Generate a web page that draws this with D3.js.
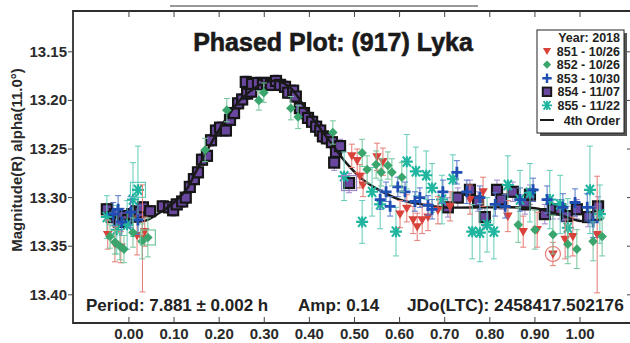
<!DOCTYPE html>
<html>
<head>
<meta charset="utf-8">
<script src="https://cdnjs.cloudflare.com/ajax/libs/d3/7.8.5/d3.min.js"></script>
<style>
  body { margin: 0; background: #fff; }
  svg { display: block; font-family: "Liberation Sans", Arial, sans-serif; font-weight: bold; }
</style>
</head>
<body>
<svg id="chart" width="630" height="343"></svg>
<script>
// session data: [phase, magnitude, error]
var s851 = [[-0.047,13.338,0.015],[-0.031,13.348,0.018],[-0.018,13.351,0.016],[0.018,13.339,0.02],[0.030,13.342,0.055],[0.035,13.335,0.015],
  [0.494,13.257,0.012],[0.506,13.262,0.012],[0.512,13.278,0.012],[0.519,13.287,0.012],[0.550,13.258,0.014],[0.563,13.263,0.014],
  [0.601,13.317,0.014],[0.616,13.311,0.014],[0.630,13.323,0.014],[0.639,13.330,0.014],[0.650,13.323,0.014],[0.663,13.320,0.014],
  [0.685,13.313,0.014],[0.712,13.309,0.015],[0.756,13.302,0.015],[0.785,13.294,0.015],[0.840,13.319,0.016],[0.874,13.335,0.016],
  [0.905,13.333,0.018],[0.940,13.358,0.012],[0.967,13.343,0.02],[0.984,13.340,0.02],[1.038,13.338,0.06]];
var s852 = [[-0.042,13.340,0.012],[-0.031,13.346,0.012],[-0.020,13.350,0.014],[-0.011,13.353,0.014],[0.009,13.336,0.015],[0.029,13.345,0.018],[0.042,13.341,0.02],
  [0.169,13.251,0.012],[0.217,13.210,0.012],[0.288,13.200,0.01],[0.299,13.192,0.01],[0.359,13.208,0.012],[0.375,13.217,0.012],[0.452,13.233,0.012],
  [0.517,13.254,0.014],[0.528,13.271,0.014],[0.548,13.266,0.014],[0.559,13.274,0.014],[0.574,13.267,0.014],[0.583,13.274,0.014],[0.605,13.279,0.015],
  [0.863,13.328,0.018],[0.900,13.333,0.02],[0.940,13.338,0.02],[0.973,13.348,0.02],[0.993,13.353,0.02],[1.029,13.345,0.02],[1.049,13.340,0.02]];
var s853 = [[-0.035,13.317,0.012],[-0.024,13.312,0.014],[-0.016,13.325,0.014],[0.004,13.315,0.016],[0.020,13.323,0.015],
  [0.557,13.302,0.01],[0.570,13.294,0.01],[0.579,13.309,0.01],[0.596,13.289,0.01],[0.612,13.294,0.01],[0.634,13.304,0.01],
  [0.645,13.300,0.01],[0.663,13.308,0.01],[0.672,13.312,0.01],[0.696,13.294,0.012],[0.727,13.274,0.012],[0.749,13.294,0.012],
  [0.778,13.300,0.012],[0.812,13.307,0.012],[0.834,13.309,0.012],[0.867,13.302,0.012],[0.896,13.292,0.012],[0.927,13.302,0.014],
  [0.962,13.310,0.014],[0.989,13.305,0.014],[1.016,13.310,0.014],[1.029,13.325,0.016]];
var s854 = [[-0.049,13.312,0.006],[-0.038,13.320,0.006],[-0.031,13.317,0.006],[-0.022,13.325,0.006],[-0.013,13.319,0.006],[-0.004,13.323,0.006],
  [0.007,13.317,0.006],[0.016,13.314,0.006],[0.024,13.315,0.006],[0.031,13.310,0.006],[0.047,13.314,0.006],
  [0.075,13.309,0.006],[0.089,13.310,0.006],[0.098,13.313,0.006],[0.106,13.307,0.006],[0.118,13.304,0.006],[0.126,13.300,0.006],
  [0.135,13.289,0.006],[0.144,13.281,0.006],[0.153,13.274,0.006],[0.162,13.261,0.006],[0.173,13.257,0.006],[0.182,13.241,0.006],
  [0.193,13.231,0.006],[0.202,13.228,0.006],[0.215,13.231,0.006],[0.224,13.220,0.006],[0.233,13.213,0.006],[0.242,13.203,0.006],
  [0.251,13.199,0.006],[0.262,13.193,0.006],[0.271,13.191,0.006],[0.259,13.181,0.006],[0.273,13.183,0.006],[0.286,13.182,0.006],
  [0.297,13.184,0.006],[0.306,13.182,0.006],[0.315,13.184,0.006],[0.326,13.180,0.006],[0.335,13.184,0.006],[0.346,13.186,0.006],
  [0.353,13.192,0.006],[0.364,13.190,0.006],[0.370,13.196,0.006],[0.379,13.208,0.006],[0.388,13.213,0.006],[0.397,13.218,0.006],
  [0.406,13.222,0.006],[0.415,13.227,0.006],[0.424,13.231,0.006],[0.430,13.237,0.006],[0.439,13.239,0.006],[0.450,13.243,0.006],
  [0.459,13.253,0.007],[0.468,13.247,0.007],[0.455,13.264,0.008],[0.488,13.285,0.01],
  [0.707,13.310,0.01],[0.729,13.300,0.01],[0.756,13.292,0.01],[0.774,13.304,0.01],[0.789,13.320,0.01],[0.816,13.292,0.01],
  [0.825,13.302,0.01],[0.851,13.294,0.01],[0.878,13.307,0.01],[0.889,13.297,0.01],[0.922,13.317,0.01],[0.940,13.312,0.01],
  [0.956,13.312,0.01],[0.971,13.319,0.01],[0.993,13.312,0.01],[1.018,13.320,0.01],[1.040,13.309,0.01]];
var s855 = [[-0.049,13.320,0.022],[-0.027,13.333,0.025],[-0.004,13.328,0.025],[0.009,13.302,0.038],[0.020,13.292,0.045],
  [0.477,13.278,0.025],[0.517,13.325,0.022],[0.539,13.294,0.025],[0.557,13.307,0.025],[0.592,13.335,0.025],[0.616,13.263,0.028],
  [0.636,13.273,0.025],[0.659,13.277,0.025],[0.672,13.290,0.025],[0.694,13.302,0.025],[0.718,13.281,0.025],[0.761,13.335,0.028],
  [0.778,13.336,0.03],[0.794,13.328,0.028],[0.809,13.335,0.028],[0.840,13.287,0.03],[0.867,13.302,0.03],[0.889,13.295,0.03],
  [0.933,13.302,0.03],[0.956,13.307,0.03],[0.973,13.331,0.03],[1.022,13.292,0.045],[1.044,13.317,0.03]];

// points flagged in the plot (hollow box / circle)
var flagged = [["852",0.042,13.341],["855",0.020,13.292],["854",0.488,13.285],["851",0.940,13.358]];

// 4th order fit
var fitPhase = [-0.05,0.0,0.035,0.07,0.10,0.13,0.15,0.20,0.25,0.30,0.33,0.36,0.40,0.45,0.483,0.52,0.55,0.60,0.65,0.70,0.80,0.90,0.95,1.00,1.05];
var fitMag   = [13.317,13.324,13.324,13.315,13.305,13.290,13.272,13.230,13.198,13.182,13.180,13.188,13.214,13.245,13.265,13.282,13.291,13.302,13.307,13.310,13.310,13.311,13.317,13.324,13.322];

var xTicks = [0,0.1,0.2,0.3,0.4,0.5,0.6,0.7,0.8,0.9,1.0];
var yTicks = [13.15,13.20,13.25,13.30,13.35,13.40];

var legendRows = ["851 - 10/26","852 - 10/26","853 - 10/30","854 - 11/07","855 - 11/22"];

var svg = d3.select("#chart");
var plotLeft = 73, plotRight = 631, plotTop = 11, plotBottom = 323;

var x = d3.scaleLinear().domain([-0.124, 1.113]).range([plotLeft, plotRight]);
var y = d3.scaleLinear().domain([13.108, 13.429]).range([plotTop, plotBottom]);

var series = [
  { id: "854", data: s854, shape: "square",   fill: "#6a479f", stroke: "#161616", bar: "#9d84c9" },
  { id: "855", data: s855, shape: "asterisk", fill: "#1fb59f", stroke: "#1fb59f", bar: "#63cbb9" },
  { id: "851", data: s851, shape: "triangle", fill: "#d8423a", stroke: "#d8423a", bar: "#e57c74" },
  { id: "853", data: s853, shape: "plus",     fill: "#1f4fb3", stroke: "#1f4fb3", bar: "#5577c9" },
  { id: "852", data: s852, shape: "diamond",  fill: "#3aa56d", stroke: "#3aa56d", bar: "#74c69c" }
];

function marker(g, shape, s) {
  if (shape == "square") {
    g.append("rect").attr("x", -5).attr("y", -5).attr("width", 10).attr("height", 10)
      .attr("fill", s.fill).attr("stroke", s.stroke).attr("stroke-width", 2.2);
  } else if (shape == "diamond") {
    g.append("path").attr("d", "M0,-4.8L4.8,0L0,4.8L-4.8,0Z").attr("fill", s.fill);
  } else if (shape == "triangle") {
    g.append("path").attr("d", "M-4.8,-3.6H4.8L0,4.8Z").attr("fill", s.fill);
  } else if (shape == "plus") {
    g.append("path").attr("d", "M-5.5,0H5.5M0,-5.5V5.5").attr("stroke", s.fill).attr("stroke-width", 2.8);
  } else {
    g.append("path").attr("d", "M-6,0H6M-4,-5L4,5M4,-5L-4,5M0,-5.5V5.5")
      .attr("stroke", s.fill).attr("stroke-width", 2.1);
  }
}

function drawSeries(s) {
  var g = svg.append("g");
  var bars = g.selectAll(".bar").data(s.data).enter().append("g")
    .attr("stroke", s.bar).attr("stroke-width", 1).attr("fill", "none");
  bars.append("path").attr("d", function(d) {
    var xx = x(d[0]), y0 = y(d[1] - d[2]), y1 = y(d[1] + d[2]);
    return "M" + xx + "," + y0 + "V" + y1 + "M" + (xx - 3) + "," + y0 + "H" + (xx + 3) + "M" + (xx - 3) + "," + y1 + "H" + (xx + 3);
  });
  g.selectAll(".pt").data(s.data).enter().append("g")
    .attr("transform", function(d) { return "translate(" + x(d[0]) + "," + y(d[1]) + ")"; })
    .each(function() { marker(d3.select(this), s.shape, s); });
}

// stray rule above the frame
svg.append("line").attr("x1", 170).attr("x2", 478).attr("y1", 6).attr("y2", 6)
  .attr("stroke", "#333").attr("stroke-width", 1.2);

// frame
svg.append("path").attr("d", "M" + plotRight + "," + plotTop + "H" + plotLeft + "V" + plotBottom + "H" + plotRight)
  .attr("fill", "none").attr("stroke", "#2e2e2e").attr("stroke-width", 1.8);

// ticks
xTicks.forEach(function(t) {
  svg.append("line").attr("x1", x(t)).attr("x2", x(t)).attr("y1", plotBottom).attr("y2", plotBottom - 6).attr("stroke", "#444");
  svg.append("line").attr("x1", x(t)).attr("x2", x(t)).attr("y1", plotTop).attr("y2", plotTop + 6).attr("stroke", "#444");
  svg.append("text").attr("x", x(t)).attr("y", 339).attr("text-anchor", "middle")
    .style("font-size", "15px").style("fill", "#2a2a2a").text(d3.format(".2f")(t));
});
yTicks.forEach(function(t) {
  svg.append("line").attr("x1", plotLeft - 5).attr("x2", plotLeft).attr("y1", y(t)).attr("y2", y(t)).attr("stroke", "#444");
  svg.append("line").attr("x1", plotRight - 4).attr("x2", plotRight).attr("y1", y(t)).attr("y2", y(t)).attr("stroke", "#444");
  svg.append("text").attr("x", 67).attr("y", y(t) + 5).attr("text-anchor", "end")
    .style("font-size", "15px").style("fill", "#2a2a2a").text(d3.format(".2f")(t));
});

svg.append("text").attr("transform", "translate(22,160) rotate(-90)").attr("text-anchor", "middle")
  .style("font-size", "15px").style("fill", "#2a2a2a").text("Magnitude(R) alpha(11.0°)");

svg.append("text").attr("x", 333).attr("y", 51).attr("text-anchor", "middle")
  .style("font-size", "25px").style("fill", "#1a1a1a").style("stroke", "#1a1a1a").style("stroke-width", 0.6)
  .text("Phased Plot: (917) Lyka");

// data
drawSeries(series[0]);
var fit = d3.line().curve(d3.curveCatmullRom)
  .x(function(d, i) { return x(fitPhase[i]); })
  .y(function(d) { return y(d); });
svg.append("path").attr("d", fit(fitMag)).attr("fill", "none").attr("stroke", "#1a1a1a").attr("stroke-width", 2.4);
for (var i = 1; i < series.length; i++) drawSeries(series[i]);

flagged.forEach(function(f) {
  var s = series.filter(function(d) { return d.id == f[0]; })[0];
  if (f[0] == "851") {
    svg.append("circle").attr("cx", x(f[1])).attr("cy", y(f[2])).attr("r", 7.5)
      .attr("fill", "none").attr("stroke", s.bar).attr("stroke-width", 1.2);
  } else {
    svg.append("rect").attr("x", x(f[1]) - 7.5).attr("y", y(f[2]) - 7.5).attr("width", 15).attr("height", 15)
      .attr("fill", "none").attr("stroke", s.bar).attr("stroke-width", 1.2);
  }
});

// bottom notes
svg.append("text").attr("x", 86).attr("y", 311).style("font-size", "17px").style("fill", "#222").text("Period: 7.881 ± 0.002 h");
svg.append("text").attr("x", 298).attr("y", 311).style("font-size", "17px").style("fill", "#222").text("Amp: 0.14");
svg.append("text").attr("x", 407).attr("y", 311).style("font-size", "17.3px").style("fill", "#222").text("JDo(LTC): 2458417.502176");

// legend
var lg = svg.append("g");
lg.append("rect").attr("x", 540).attr("y", 33).attr("width", 87).attr("height", 103).attr("fill", "#555");
lg.append("rect").attr("x", 537).attr("y", 30).attr("width", 87).attr("height", 103)
  .attr("fill", "#fff").attr("stroke", "#222").attr("stroke-width", 1);
lg.append("text").attr("x", 620).attr("y", 42).attr("text-anchor", "end")
  .style("font-size", "12.5px").style("fill", "#222").text("Year: 2018");
var legendOrder = ["851","852","853","854","855"];
legendRows.forEach(function(r, i) {
  var s = series.filter(function(d) { return d.id == legendOrder[i]; })[0];
  var yy = 55.5 + i * 13.6;
  var g = lg.append("g").attr("transform", "translate(547," + (yy - 4.5) + ") scale(0.85)");
  marker(g, s.shape, s);
  lg.append("text").attr("x", 620).attr("y", yy).attr("text-anchor", "end")
    .style("font-size", "12.5px").style("fill", "#222").text(r);
});
lg.append("line").attr("x1", 540).attr("x2", 554).attr("y1", 120).attr("y2", 120)
  .attr("stroke", "#1a1a1a").attr("stroke-width", 2);
lg.append("text").attr("x", 620).attr("y", 125).attr("text-anchor", "end")
  .style("font-size", "12.5px").style("fill", "#222").text("4th Order");
</script>
</body>
</html>
